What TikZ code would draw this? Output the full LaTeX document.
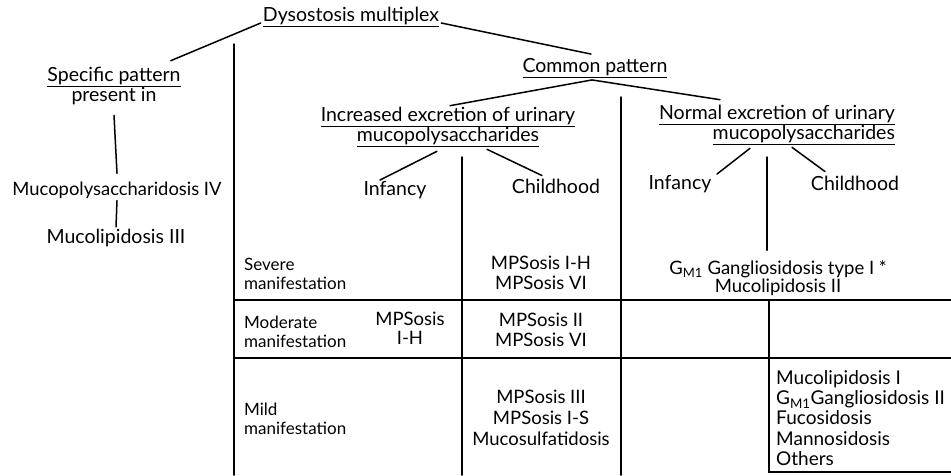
\documentclass[tikz,border=0pt]{standalone}
\usepackage{fontspec}
\setmainfont{Lato}
\usepackage{tikz}
\usetikzlibrary{positioning,calc}

\tikzset{
  every node/.style={font=\fontsize{19.5}{20.5}\selectfont, inner sep=2pt},
  cell/.style={font=\fontsize{18.5}{19.5}\selectfont},
  ln/.style={line width=1.5pt, line cap=round},
}

\begin{document}
\begin{tikzpicture}[x=1pt, y=-1pt]
    \useasboundingbox (0,0) rectangle (951,475);

    % Top
    \node (dys) at (351, 17) {\underline{Dysostosis multiplex}};

    % Specific pattern
    \node[align=center] (spec) at (114, 86) {\underline{Specific pattern}\\present in};
    \node[font=\fontsize{18.4}{20}\selectfont] (mps4) at (117, 190) {Mucopolysaccharidosis IV};
    \node (ml3) at (116, 238) {Mucolipidosis III};
    \draw[ln] ($(dys.west)+(0,6)$) -- ($(spec.north east)+(-12,-4)$);
    \draw[ln] ($(spec.south)+(0,8)$) -- ($(mps4.north)+(0,-6)$);
    \draw[ln] (mps4.south) -- (ml3.north);

    % Common pattern
    \node (common) at (595, 68) {\underline{Common pattern}};
    \node[align=center] (incr) at (448, 127)
        {\underline{Increased excretion of urinary}\\\underline{mucopolysaccharides}};
    \node[align=right] (norm) at (777, 125)
        {\underline{Normal excretion of urinary}\\\underline{mucopolysaccharides}};
    \draw[ln] ($(dys.east)+(0,6)$) -- ($(common.north)+(-4,-2)$);
    \draw[ln] ($(incr.north)+(2,1)$) -- ($(common.south)+(-3,0)$) -- ($(norm.north)+(-57,-3)$);

    % Age
    \node (inf1) at (395, 190) {Infancy};
    \node (child1) at (556, 186) {Childhood};
    \node (inf2) at (680, 184) {Infancy};
    \node (child2) at (855, 183) {Childhood};
    \draw[ln] ($(incr.south)+(-11,2)$) -- ($(inf1.north)+(-15,1)$);
    \draw[ln] ($(incr.south)+(39,0)$) -- ($(child1.north)+(-14,-1)$);
    \draw[ln] ($(norm.south)+(-27,1)$) -- ($(inf2.north)+(37,1)$);
    \draw[ln] ($(norm.south)+(15,0)$) -- ($(child2.north)+(-30,-2)$);

    % Table frame
    \coordinate (c1) at (234, 44);
    \coordinate (c1b) at (234, 475);
    \coordinate (c2) at (462, 157);
    \coordinate (c2b) at (462, 475);
    \coordinate (c3) at (621, 97);
    \coordinate (c3b) at (621, 475);
    \coordinate (c4) at (767, 157);
    \coordinate (c4t) at (769, 300);
    \coordinate (c4b) at (769, 472);
    \coordinate (r1a) at (234, 300);
    \coordinate (r1b) at (951, 300);
    \coordinate (r2a) at (234, 358);
    \coordinate (r2b) at (951, 358);
    \coordinate (r3b) at (951, 472);
    \draw[ln] (c1) -- (c1b);
    \draw[ln] (c2) -- (c2b);
    \draw[ln] (c3) -- (c3b);
    \draw[ln] (c4t) -- (c4b) -- (r3b);
    \draw[ln] (r1a) -- (r1b);
    \draw[ln] (r2a) -- (r2b);

    % Rows
    \node[cell, anchor=west, align=left, font=\fontsize{17}{19}\selectfont] (sev) at (242, 274) {Severe\\manifestation};
    \node[cell, anchor=west, align=left, font=\fontsize{17}{19}\selectfont] (mod) at (242, 332) {Moderate\\manifestation};
    \node[cell, anchor=west, align=left, font=\fontsize{17}{19}\selectfont] (mild) at (242, 419) {Mild\\manifestation};

    \node[cell, align=center] (sev1) at (541, 273) {MPSosis I-H\\MPSosis VI};
    \node[cell, align=center] (mod0) at (410, 328) {MPSosis\\I-H};
    \node[cell, align=center] (mod1) at (541, 330) {MPSosis II\\MPSosis VI};
    \node[cell, align=center, font=\fontsize{18.5}{21}\selectfont] (mild1) at (541, 418)
        {MPSosis III\\MPSosis I-S\\Mucosulfatidosis};

    \node[cell, align=center, font=\fontsize{18.5}{17}\selectfont] (gm1) at (778, 278)
        {G\textsubscript{M1} Gangliosidosis type I *\\Mucolipidosis II};
    \draw[ln, shorten >=8pt] (c4) -- (c4 |- gm1.north);
    \node[cell, anchor=west, align=left, font=\fontsize{19}{20.2}\selectfont] (mild2) at (774, 418)
        {Mucolipidosis I\\G\textsubscript{M1}Gangliosidosis II\\Fucosidosis\\Mannosidosis\\Others};
\end{tikzpicture}
\end{document}
